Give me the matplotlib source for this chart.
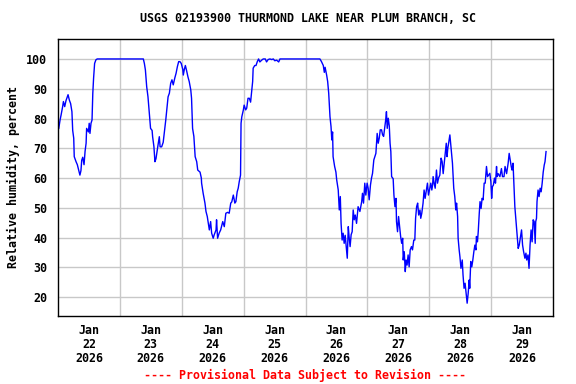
import matplotlib
matplotlib.use("Agg")
import matplotlib.pyplot as plt
import pandas as pd

title = "USGS 02193900 THURMOND LAKE NEAR PLUM BRANCH, SC"
ylabel = "Relative humidity, percent"
footer = "---- Provisional Data Subject to Revision ----"
start = pd.Timestamp("2026-01-22 00:00")
end = pd.Timestamp("2026-01-30 00:00")

# hours since 2026-01-22 00:00
hours = [
    0.3, 0.8, 1.2, 1.8, 2.1, 2.6, 3.1, 3.9, 4.4, 4.9, 5.4, 5.7, 6.1, 6.3, 7.0, 7.5, 8.0, 8.5, 8.9, 9.2,
    9.6, 10.1, 10.5, 10.9, 11.1, 11.8, 12.1, 12.4, 12.8, 13.2, 13.5, 13.8, 14.2, 14.7, 15.2,
    33.1, 33.5, 33.9, 34.4, 34.9, 35.4, 35.9, 36.5, 36.7, 37.2, 37.6, 38.0, 38.5, 38.9, 39.3, 39.6,
    40.2, 40.8, 41.2, 41.8, 42.2, 42.7, 43.2, 43.7, 44.2, 44.7, 45.3, 45.8, 46.3, 46.8, 47.3, 47.8,
    48.4, 48.6, 49.0, 49.4, 49.9, 50.4, 50.9, 51.5, 51.8, 52.2, 52.7, 53.2, 53.8, 54.2, 55.1, 55.6,
    55.7, 56.3, 57.0, 57.4, 57.9, 58.3, 58.7, 59.2, 59.6, 60.2, 60.6, 61.3, 61.5, 61.9, 62.5, 63.1,
    63.9, 64.5, 65.1, 65.8, 66.4, 67.0, 67.4, 68.0, 68.6, 69.0, 69.5, 69.9, 70.3, 70.8, 71.0, 71.3,
    71.9, 72.2, 72.8, 73.2, 73.7, 74.2, 74.7, 75.1, 75.5, 75.7, 76.3, 76.8, 77.3, 77.8, 78.3, 79.0,
    79.6, 80.4, 80.9, 81.5, 82.2, 82.9, 83.5, 84.1, 84.8, 85.6, 86.1,
    101.6, 102.2, 102.9, 103.3, 103.6, 104.2, 104.6, 105.0, 105.5, 105.9, 106.2, 106.5, 106.7, 107.3,
    107.8, 108.1, 108.7, 109.1, 109.5, 109.8, 110.2, 110.6, 111.0, 111.4, 111.8, 112.2, 112.6, 112.9,
    113.3, 113.7, 114.1, 114.5, 114.9, 115.3, 115.8, 116.4, 117.1, 117.8, 118.1, 118.5, 119.0, 119.4,
    119.9, 120.3, 120.7, 121.2, 121.6, 122.0, 122.5, 122.9, 123.3, 123.8, 124.2, 124.6, 125.0, 125.5,
    125.9, 126.3, 126.7, 127.1, 127.4, 127.7, 128.1, 128.5, 128.8, 129.1, 129.4, 130.0, 130.3, 130.7,
    131.1, 131.3, 131.7, 132.1, 132.5, 132.9, 133.3, 133.7, 133.9, 134.3, 134.7, 135.0, 135.4, 135.8,
    136.2, 136.6, 137.1, 137.5, 138.0, 138.4, 138.7, 139.1, 139.5, 139.9, 140.4, 140.7, 141.1, 141.6,
    142.0, 142.4, 143.0, 143.3, 143.7, 144.2, 144.6, 145.0, 145.3, 145.5, 145.9, 146.3, 146.8, 147.2,
    147.6, 148.1, 148.6, 149.0, 149.4, 149.8, 150.2, 150.6, 150.9, 151.2, 151.6, 152.0, 152.4, 152.8,
    153.0, 153.3, 153.5, 153.9, 154.3, 154.6, 155.0, 155.2, 155.6, 155.9, 156.3, 156.8, 157.1, 157.5,
    157.9, 158.3, 158.7, 159.1, 159.5, 159.7, 160.1, 160.5, 160.9, 161.3, 161.7, 162.1, 162.3, 162.7,
    163.0, 163.4, 163.7, 164.1, 164.5, 164.9, 165.3, 165.7, 166.2, 166.6, 167.0, 167.5, 167.9, 168.2,
    168.5, 168.9, 169.3, 169.7, 170.1, 170.3, 170.7, 171.4, 172.0, 172.4, 173.0, 173.4, 174.0, 174.6,
    175.0, 175.4, 175.8, 176.1, 176.5, 176.9, 177.2, 177.6, 178.0, 178.5, 178.9, 179.4, 179.8, 180.2,
    180.6, 181.1, 181.5, 181.8, 182.3, 182.7, 183.1, 183.5, 183.9, 184.3, 184.7, 185.1, 185.3, 185.6,
    185.8, 186.2, 186.6, 187.0, 187.4, 187.8, 188.2, 188.6, 188.9, 189.3,
]

humidity = [
    76.7, 79.5, 81.2, 84.0, 85.7, 84.0, 86.0, 88.0, 86.2, 85.0, 82.3, 76.0, 73.4, 67.2, 65.5, 64.5, 62.7, 61.0, 62.5, 66.0,
    67.0, 64.5, 69.0, 71.7, 76.7, 75.5, 78.4, 75.0, 78.4, 79.5, 88.5, 93.5, 98.5, 99.7, 100.0,
    100.0, 98.5, 96.3, 90.7, 87.3, 81.8, 76.7, 76.0, 73.9, 70.6, 65.5, 66.5, 69.5, 71.7, 73.9, 70.5,
    70.5, 72.0, 75.0, 79.5, 82.9, 87.3, 88.5, 91.8, 93.0, 91.3, 93.6, 95.2, 97.4, 99.1, 99.1, 98.5,
    96.5, 94.6, 96.5, 97.8, 96.0, 94.0, 92.4, 89.6, 86.8, 76.7, 74.0, 67.2, 65.5, 62.7, 62.0, 60.0,
    58.3, 54.9, 51.6, 48.8, 47.1, 44.8, 42.6, 45.4, 41.5, 39.8, 41.0, 42.6, 46.0, 39.8, 41.5, 42.6,
    45.4, 43.7, 48.2, 48.5, 48.2, 51.6, 52.0, 54.3, 51.6, 52.1, 55.4, 56.6, 58.8, 61.0, 78.4, 80.6,
    82.9, 84.5, 82.9, 83.5, 86.8, 86.8, 85.5, 89.0, 92.4, 96.9, 97.8, 97.8, 99.1, 100.0, 99.0, 99.6,
    100.0, 100.0, 99.0, 99.8, 100.0, 99.8, 100.0, 99.4, 99.6, 99.0, 100.0,
    100.0, 99.1, 97.8, 95.5, 97.2, 94.6, 92.4, 88.5, 80.6, 77.3, 72.8, 75.5, 67.2, 63.9,
    62.0, 59.4, 56.0, 49.3, 53.8, 44.8, 39.2, 41.5, 38.1, 40.8, 37.0, 33.1, 43.7, 40.4,
    37.0, 41.0, 42.0, 49.3, 46.0, 47.6, 44.8, 50.4, 48.8, 52.1, 54.9, 51.6, 58.3, 54.3,
    58.3, 56.6, 52.7, 57.7, 60.0, 61.6, 66.1, 67.2, 68.3, 75.0, 71.7, 73.4, 76.2, 76.2,
    74.5, 74.0, 76.7, 79.5, 82.3, 76.7, 80.1, 77.5, 71.7, 68.9, 60.5, 59.8, 54.3, 50.4,
    53.2, 45.4, 42.0, 47.1, 43.7, 40.4, 38.1, 39.8, 32.5, 35.3, 28.6, 32.5, 30.8, 34.2,
    30.2, 35.9, 37.0, 35.9, 39.2, 39.2, 46.5, 50.4, 51.6, 47.6, 49.3, 46.5, 48.2, 51.6,
    56.0, 53.2, 56.6, 58.3, 54.3, 56.6, 58.3, 56.0, 57.7, 60.5, 58.3, 56.6, 62.7, 58.3,
    60.0, 61.0, 66.7, 65.5, 61.5, 65.0, 68.3, 71.7, 67.2, 70.0, 72.2, 74.5, 70.6, 66.7,
    65.0, 60.0, 56.6, 53.8, 49.3, 51.6, 47.1, 39.8, 35.9, 33.6, 29.7, 32.5, 27.5, 23.0,
    24.7, 21.3, 18.0, 21.3, 25.8, 23.0, 32.0, 30.2, 32.5, 35.3, 37.5, 35.9, 40.4, 38.6,
    42.0, 48.2, 52.1, 49.8, 53.2, 52.7, 58.3, 58.3, 63.9, 60.5, 61.0, 61.6, 58.8, 53.2,
    57.1, 57.7, 60.0, 58.3, 63.9, 60.5, 61.5, 60.5, 63.2, 60.5, 60.5, 63.9, 61.5, 65.0,
    68.3, 66.1, 63.9, 62.7, 65.0, 57.1, 50.4, 46.0, 42.0, 36.4, 37.5, 40.4, 42.6, 37.5,
    35.3, 33.1, 34.8, 32.5, 34.2, 29.7, 37.5, 42.6, 38.6, 46.0, 45.4, 38.1, 45.4, 46.5,
    52.1, 56.0, 53.8, 56.6, 55.4, 58.3, 62.0, 64.4, 65.5, 68.9,
]

yticks = [20, 30, 40, 50, 60, 70, 80, 90, 100]
label_days = pd.date_range("2026-01-22 12:00", periods=8, freq="D")
grid_days = pd.date_range("2026-01-23 00:00", periods=7, freq="D")

times = start + pd.to_timedelta(hours, unit="h")

font = dict(family="DejaVu Sans Mono", weight="bold", size=8.4)

fig = plt.figure(figsize=(5.76, 3.84), dpi=100)
ax = fig.add_axes([58/576, 1 - 316/384, (553 - 58)/576, (316 - 39)/384])

ax.plot(times, humidity, color="#0000ff", linewidth=1.0)

ax.set_xlim(start, end)
ax.set_ylim(13.7, 106.7)
ax.set_yticks(yticks)
ax.set_yticklabels([str(v) for v in yticks], **font)
ax.set_xticks(label_days)
ax.set_xticklabels([d.strftime("%b\n%d\n%Y") for d in label_days], **font, linespacing=1.1)
ax.set_xticks(grid_days, minor=True)
ax.tick_params(axis="both", which="both", length=0)
ax.tick_params(axis="y", pad=8)
ax.tick_params(axis="x", pad=6)
ax.grid(axis="y", which="major", color="#c8c8c8", linewidth=1.0)
ax.grid(axis="x", which="minor", color="#c8c8c8", linewidth=1.0)
ax.grid(axis="x", which="major", visible=False)
ax.set_axisbelow(True)
for s in ax.spines.values():
    s.set_linewidth(1.0)
    s.set_color("black")

ax.set_ylabel(ylabel, **font, labelpad=4)
fig.text(0.5 * (58 + 553) / 576 + 0.005, 1 - 19/384, title, ha="center", va="center", **font)
fig.text(305/576, 1 - 375/384, footer, ha="center", va="center", color="red",
         family="DejaVu Sans Mono", weight="bold", size=8.4)

fig.savefig("out.png", dpi=100)
